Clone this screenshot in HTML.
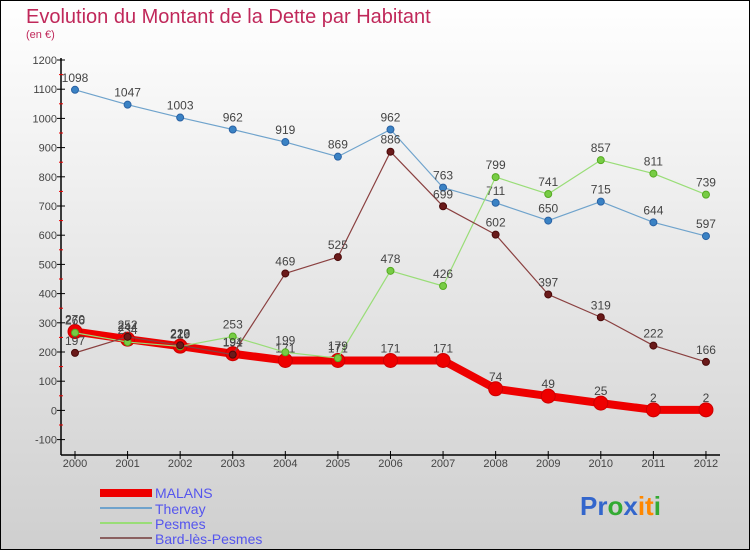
<!DOCTYPE html>
<html><head><meta charset="utf-8"><style>
html,body{margin:0;padding:0;}
body{width:750px;height:550px;overflow:hidden;font-family:"Liberation Sans",sans-serif;}
svg{display:block}
text{font-family:"Liberation Sans",sans-serif;}
</style></head><body>
<svg id="chart" width="750" height="550" xmlns="http://www.w3.org/2000/svg">
<defs><linearGradient id="bg" x1="0" y1="0" x2="0" y2="1"><stop offset="0" stop-color="#ffffff"/><stop offset="1" stop-color="#cfcfcf"/></linearGradient></defs>
<rect x="0.5" y="0.5" width="749" height="549" fill="url(#bg)" stroke="#000" stroke-width="1"/>
<text x="26" y="23" font-size="20" fill="#c0285a">Evolution du Montant de la Dette par Habitant</text>
<text x="26" y="38" font-size="11" fill="#c0285a">(en €)</text>
<g id="axes"></g><g id="series"></g>
<g>
<rect x="100" y="489" width="52" height="8" fill="#ee0000"/>
<text x="155" y="498" font-size="14" fill="#5555ee">MALANS</text>
<rect x="100" y="507" width="52" height="2" fill="#6fa3cc"/>
<text x="155" y="514" font-size="14" fill="#5555ee">Thervay</text>
<rect x="100" y="522" width="52" height="2" fill="#99dd77"/>
<text x="155" y="529" font-size="14" fill="#5555ee">Pesmes</text>
<rect x="100" y="537" width="52" height="2" fill="#8a6060"/>
<text x="155" y="544" font-size="14" fill="#5555ee">Bard-lès-Pesmes</text>
</g>
<g font-size="26" font-weight="bold">
<text x="580" y="515"><tspan fill="#3366cc">Pr</tspan><tspan fill="#33aa33">o</tspan><tspan fill="#3366cc">x</tspan><tspan fill="#ff8800">it</tspan><tspan fill="#33aa33">i</tspan></text>
</g>
</svg>
<script>
const years=[2000,2001,2002,2003,2004,2005,2006,2007,2008,2009,2010,2011,2012];
const malans=[270,244,220,194,171,171,171,171,74,49,25,2,2];
const thervay=[1098,1047,1003,962,919,869,962,763,711,650,715,644,597];
const pesmes=[266,234,219,253,199,179,478,426,799,741,857,811,739];
const bard=[197,252,223,191,469,525,886,699,602,397,319,222,166];
const yTicks=[-100,0,100,200,300,400,500,600,700,800,900,1000,1100,1200];
const NS="http://www.w3.org/2000/svg";
const X=i=>75+i*52.58;
const Y=v=>410.4-v*0.292;
function el(tag,attrs,parent){const e=document.createElementNS(NS,tag);for(const k in attrs)e.setAttribute(k,attrs[k]);parent.appendChild(e);return e;}
const ax=document.getElementById('axes');
let a=el('line',{x1:61,y1:58,x2:61,y2:455,stroke:'#000','stroke-width':1.5},ax);


a=el('line',{x1:61,y1:455,x2:720,y2:455,stroke:'#000','stroke-width':1.5},ax);


yTicks.forEach(v=>{
 el('line',{x1:57,y1:Y(v),x2:65,y2:Y(v),stroke:'#000'},ax);
 if(v<1200){const m=el('line',{x1:59,y1:Y(v+50),x2:63,y2:Y(v+50),stroke:'#e00'},ax);}
 const t=el('text',{x:57,y:Y(v)+4,'font-size':11,fill:'#444','text-anchor':'end'},ax);
 
 
 t.textContent=v;
});
years.forEach((yr,i)=>{
 el('line',{x1:X(i),y1:451,x2:X(i),y2:459,stroke:'#000'},ax);
 const t=el('text',{x:X(i),y:467,'font-size':11,fill:'#444','text-anchor':'middle'},ax);
 
 
 t.textContent=yr;
});
const sg=document.getElementById('series');
function draw(name,data,color,dot,w,r,dotStroke){
 const g=el('g',{},sg);
 
 
 const p=el('polyline',{points:data.map((v,i)=>X(i)+','+Y(v)).join(' '),fill:'none',stroke:color,'stroke-width':w,'stroke-linejoin':'round'},g);
 
 
 data.forEach((v,i)=>{
  const c=el('circle',{cx:X(i),cy:Y(v),r:r,fill:dot,stroke:dotStroke,'stroke-width':1},g);
  
  
  const t=el('text',{x:X(i),y:Y(v)-8,'font-size':12,fill:'#444','text-anchor':'middle'},g);
  
  
  t.textContent=v;
 });
}
draw('malans',malans,'#ee0000','#ee0000',8,7,'#cc0000');
draw('thervay',thervay,'#6fa3cc','#3a82c4',1.2,3.5,'#2a62a4');
draw('pesmes',pesmes,'#99dd77','#77cc44',1.2,3.5,'#55aa22');
draw('bard',bard,'#8a4040','#6a1a1a',1.2,3.5,'#4a0a0a');
</script>
</body></html>
